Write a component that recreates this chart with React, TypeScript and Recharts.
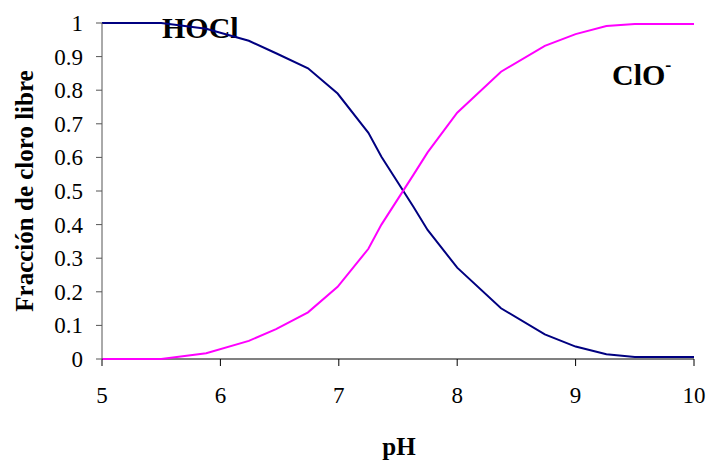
import React from 'react';
import { LineChart, Line, XAxis, YAxis, ReferenceLine } from 'recharts';

const phValues = [5, 5.5, 5.88, 6.24, 6.47, 6.74, 6.99, 7.25, 7.36, 7.63, 7.75, 8.0, 8.37, 8.74, 9.0, 9.26, 9.5, 10];
const hoclFraction = [1.0, 1.0, 0.983, 0.947, 0.91, 0.865, 0.79, 0.673, 0.602, 0.453, 0.384, 0.272, 0.151, 0.073, 0.037, 0.014, 0.006, 0.006];
const cloFraction = [0, 0, 0.017, 0.054, 0.089, 0.139, 0.215, 0.328, 0.4, 0.548, 0.615, 0.733, 0.855, 0.932, 0.967, 0.991, 0.997, 0.997];
const xTicks = [5, 6, 7, 8, 9, 10];
const yTicks = [0, 0.1, 0.2, 0.3, 0.4, 0.5, 0.6, 0.7, 0.8, 0.9, 1];

const FONT = 'Liberation Serif, DejaVu Serif, serif';

const data = phValues.map((ph, i) => ({ ph, hocl: hoclFraction[i], clo: cloFraction[i] }));

// tick text drawn by hand so the serif font sticks
const SerifTick = (props: any) => {
  const { x, y, payload, textAnchor, verticalAnchor } = props;
  const dy = verticalAnchor === 'start' ? '0.71em' : '0.35em';
  return (
    <text x={x} y={y} dy={dy} textAnchor={textAnchor} fill="#000" fontFamily={FONT} fontSize={23}>
      {payload.value}
    </text>
  );
};

export default function App() {
  return (
    <div style={{ position: 'absolute', left: 0, top: 0, width: 710, height: 460, background: '#fff', fontFamily: FONT }}>
      <LineChart width={710} height={460} data={data} margin={{ top: 23, right: 16, bottom: 0, left: 0 }} style={{ fontFamily: FONT }}>
        <XAxis
          dataKey="ph"
          type="number"
          domain={[5, 10]}
          ticks={xTicks}
          height={101}
          tickSize={7}
          tickMargin={21}
          axisLine={false}
          tickLine={{ stroke: '#000' }}
          tick={<SerifTick />}
        />
        <YAxis
          type="number"
          domain={[0, 1]}
          ticks={yTicks}
          width={102}
          tickSize={6}
          tickMargin={13}
          interval={0}
          axisLine={{ stroke: '#555' }}
          tickLine={{ stroke: '#555' }}
          tick={<SerifTick />}
        />
        {/* x axis line drawn as a reference line so the curves sit above it */}
        <ReferenceLine y={0} stroke="#808080" strokeWidth={2} />
        <Line dataKey="hocl" stroke="#000080" strokeWidth={2} dot={false} isAnimationActive={false} />
        <Line dataKey="clo" stroke="#ff00ff" strokeWidth={2} dot={false} isAnimationActive={false} />
        <text x={399} y={455} textAnchor="middle" fontFamily={FONT} fontWeight="bold" fontSize={25} fill="#000">pH</text>
        <text
          x={0}
          y={0}
          transform="translate(33,191) rotate(-90)"
          textAnchor="middle"
          fontFamily={FONT}
          fontWeight="bold"
          fontSize={25}
          fill="#000"
        >
          Fracción de cloro libre
        </text>
        <text x={162} y={38} fontFamily={FONT} fontWeight="bold" fontSize={30} fill="#000">HOCl</text>
        <text x={612} y={85} fontFamily={FONT} fontWeight="bold" fontSize={30} fill="#000">
          ClO<tspan fontSize={18} dy={-14}>-</tspan>
        </text>
      </LineChart>
    </div>
  );
}
